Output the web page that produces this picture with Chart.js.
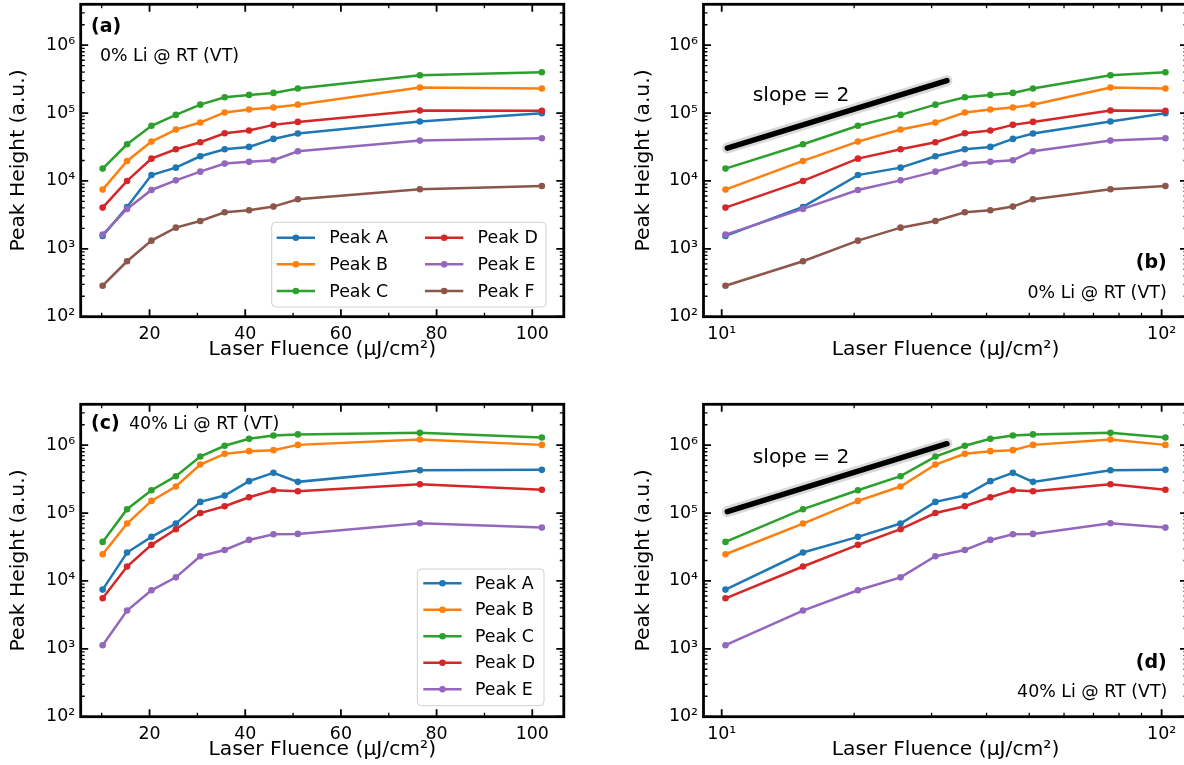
<!DOCTYPE html>
<html>
<head>
<meta charset="utf-8">
<script src="https://cdn.jsdelivr.net/npm/chart.js@4.4.0/dist/chart.umd.min.js"></script>
<style>
  html, body { margin: 0; padding: 0; background: #fff; overflow: hidden; width: 1184px; height: 765px; }
  canvas { position: absolute; }
</style>
</head>
<body>
<canvas id="pa" width="592" height="382" style="left:0px;top:0px"></canvas>
<canvas id="pb" width="580" height="382" style="left:620px;top:0px"></canvas>
<canvas id="pc" width="592" height="382" style="left:0px;top:400px"></canvas>
<canvas id="pd" width="580" height="382" style="left:620px;top:400px"></canvas>
<script>
// fluence values (uJ/cm2)
const fluence = [10.2, 15.3, 20.4, 25.5, 30.6, 35.7, 40.8, 45.9, 51.0, 76.5, 102.0];

// 0% Li @ RT
const li0A = [1550, 4140, 12200, 15700, 23100, 29300, 31700, 41600, 49900, 75000, 99500];
const li0B = [7450, 19700, 38000, 57100, 72400, 102000, 113000, 121000, 133000, 238000, 230000];
const li0C = [15200, 34700, 65000, 94000, 133000, 171000, 185000, 198000, 230000, 361000, 400000];
const li0D = [4050, 10000, 21300, 29300, 37200, 50400, 55200, 67000, 74100, 109000, 108000];
const li0E = [1620, 3870, 7360, 10200, 13700, 18000, 19100, 20200, 27400, 39300, 42600];
const li0F = [286, 655, 1320, 2050, 2570, 3450, 3700, 4190, 5370, 7540, 8440];

// 40% Li @ RT
const li40A = [7450, 26200, 44600, 70000, 146000, 181000, 295000, 391000, 288000, 428000, 433000];
const li40B = [24700, 70000, 151000, 246000, 519000, 745000, 816000, 844000, 1010000, 1210000, 1010000];
const li40C = [37600, 114000, 217000, 349000, 680000, 980000, 1240000, 1390000, 1440000, 1520000, 1300000];
const li40D = [5550, 16300, 34000, 57800, 100000, 126000, 171000, 217000, 210000, 266000, 220000];
const li40E = [1130, 3660, 7280, 11300, 23100, 28600, 40200, 48800, 49300, 70800, 61100];

// slope = 2 guide lines (end points)
const slopeX = [10.3, 32.5];
const slope0 = [30500, 300000];
const slope40 = [105000, 1050000];

// ticks
const yTicks = [1e2, 1e3, 1e4, 1e5, 1e6];
const yTickLabels = ['10²', '10³', '10⁴', '10⁵', '10⁶'];
const linTicks = [20, 40, 60, 80, 100];
const linMinor = [10, 30, 50, 70, 90];
const logTicks = [10, 100];
const logTickLabels = ['10¹', '10²'];
const logMinor = [20, 30, 40, 50, 60, 70, 80, 90];

const colors = ['#1f77b4', '#ff7f0e', '#2ca02c', '#d62728', '#9467bd', '#8c564b'];
const FONT = "'DejaVu Sans', sans-serif";
Chart.defaults.font.family = FONT;
Chart.defaults.color = '#000';

const yMinor = [];
yTicks.forEach(d => { for (let m = 2; m <= 9; m++) if (d * m < 4e6) yMinor.push(d * m); });

function series(label, vals, i) {
  return {
    label: label,
    data: fluence.map((f, k) => ({ x: f, y: vals[k] })),
    borderColor: colors[i], backgroundColor: colors[i],
    borderWidth: 2.5, pointRadius: 3.3, pointHoverRadius: 3.3, pointBorderWidth: 0,
    order: 10 - i
  };
}

function slopeSets(ys) {
  const pts = slopeX.map((x, k) => ({ x: x, y: ys[k] }));
  return [
    { label: '', guide: true, data: pts, borderColor: 'rgba(170,170,170,0.45)', borderWidth: 11,
      borderCapStyle: 'round', pointRadius: 0, order: -1 },
    { label: '', guide: true, data: pts, borderColor: '#000', borderWidth: 5.5,
      borderCapStyle: 'round', pointRadius: 0, order: -2 }
  ];
}

// inward ticks on all four sides + frame
const frame = {
  id: 'frame',
  afterDatasetsDraw(chart, args, o) {
    const { ctx, chartArea: a } = chart;
    const sx = chart.scales.x, sy = chart.scales.y;
    ctx.save();
    ctx.strokeStyle = '#000';
    const xt = (vals, len, lw) => {
      ctx.lineWidth = lw; ctx.beginPath();
      vals.forEach(v => {
        const p = sx.getPixelForValue(v);
        if (p < a.left || p > a.right) return;
        ctx.moveTo(p, a.bottom); ctx.lineTo(p, a.bottom - len);
        ctx.moveTo(p, a.top); ctx.lineTo(p, a.top + len);
      });
      ctx.stroke();
    };
    const yt = (vals, len, lw) => {
      ctx.lineWidth = lw; ctx.beginPath();
      vals.forEach(v => {
        const p = sy.getPixelForValue(v);
        if (p < a.top || p > a.bottom) return;
        ctx.moveTo(a.left, p); ctx.lineTo(a.left + len, p);
        ctx.moveTo(a.right, p); ctx.lineTo(a.right - len, p);
      });
      ctx.stroke();
    };
    xt(o.xMajor, 7.5, 1.8); xt(o.xMinor, 4, 1.3);
    yt(yTicks, 7.5, 1.8); yt(yMinor, 4, 1.3);
    ctx.lineWidth = 2.8;
    ctx.strokeRect(a.left, a.top, a.right - a.left, a.bottom - a.top);
    ctx.restore();
  }
};

// text notes placed relative to the plot area
const notes = {
  id: 'notes',
  afterDraw(chart, args, o) {
    const { ctx, chartArea: a } = chart;
    ctx.save();
    ctx.fillStyle = '#000';
    ctx.textBaseline = 'middle';
    (o.items || []).forEach(n => {
      ctx.font = (n.bold ? 'bold ' : '') + n.size + 'px ' + FONT;
      ctx.textAlign = n.align || 'left';
      ctx.fillText(n.text, a.left + n.x, a.top + n.y);
    });
    ctx.restore();
  }
};

// matplotlib-like legend box
const boxLegend = {
  id: 'boxLegend',
  afterDraw(chart, args, o) {
    if (!o.show) return;
    const { ctx, chartArea: a } = chart;
    const sets = chart.data.datasets.filter(d => !d.guide);
    const rows = Math.ceil(sets.length / o.cols);
    const bx = a.left + o.x, by = a.top + o.y;
    ctx.save();
    ctx.beginPath();
    ctx.roundRect(bx, by, o.w, o.h, 4);
    ctx.fillStyle = 'rgba(255,255,255,0.8)';
    ctx.fill();
    ctx.strokeStyle = '#d0d0d0';
    ctx.lineWidth = 1;
    ctx.stroke();
    ctx.font = '17.4px ' + FONT;
    ctx.textBaseline = 'middle';
    ctx.textAlign = 'left';
    sets.forEach((d, i) => {
      const c = Math.floor(i / rows), r = i % rows;
      const lx = bx + o.lineStart + c * o.colW;
      const ly = by + o.first + r * o.rowH;
      ctx.strokeStyle = d.borderColor;
      ctx.lineWidth = 2.5;
      ctx.beginPath(); ctx.moveTo(lx, ly); ctx.lineTo(lx + 38.3, ly); ctx.stroke();
      ctx.fillStyle = d.borderColor;
      ctx.beginPath(); ctx.arc(lx + 19.2, ly, 3.3, 0, Math.PI * 2); ctx.fill();
      ctx.fillStyle = '#000';
      ctx.fillText(d.label, lx + o.textOff, ly + 1);
    });
    ctx.restore();
  }
};

function makePanel(id, cfg) {
  const logX = cfg.logX;
  return new Chart(document.getElementById(id), {
    type: 'line',
    data: { datasets: cfg.datasets },
    plugins: [frame, notes, boxLegend],
    options: {
      responsive: false, animation: false, devicePixelRatio: 1, events: [],
      layout: { padding: cfg.padding },
      plugins: {
        legend: { display: false }, tooltip: { enabled: false },
        frame: { xMajor: logX ? logTicks : linTicks, xMinor: logX ? logMinor : linMinor },
        notes: { items: cfg.notes },
        boxLegend: cfg.legend || { show: false }
      },
      scales: {
        x: {
          type: logX ? 'logarithmic' : 'linear',
          min: logX ? 9.091 : 5.61, max: logX ? 114.5 : 106.59,
          afterBuildTicks: s => { s.ticks = (logX ? logTicks : linTicks).map(v => ({ value: v })); },
          afterFit: s => { s.height = 50; s.paddingLeft = 0; s.paddingRight = 0; },
          grid: { display: false, drawTicks: false }, border: { display: false },
          ticks: {
            autoSkip: false, maxRotation: 0, padding: 7.4, font: { size: 17.4 },
            callback: v => logX ? logTickLabels[logTicks.indexOf(v)] : String(v)
          },
          title: { display: true, text: 'Laser Fluence (μJ/cm²)', font: { size: 20.3 }, padding: { top: 0, bottom: 4.8 } }
        },
        y: {
          type: 'logarithmic', min: 100, max: 4e6,
          afterBuildTicks: s => { s.ticks = yTicks.map(v => ({ value: v })); },
          afterFit: s => { s.width = cfg.yWidth; s.paddingTop = 0; s.paddingBottom = 0; },
          grid: { display: false, drawTicks: false }, border: { display: false },
          ticks: {
            autoSkip: false, padding: 5.5, font: { size: 17.4 },
            callback: v => yTickLabels[yTicks.indexOf(v)]
          },
          title: { display: true, text: 'Peak Height (a.u.)', font: { size: 20.3 }, padding: { top: cfg.yTitlePad, bottom: 0 } }
        }
      }
    }
  });
}

const set0 = () => [series('Peak A', li0A, 0), series('Peak B', li0B, 1), series('Peak C', li0C, 2),
  series('Peak D', li0D, 3), series('Peak E', li0E, 4), series('Peak F', li0F, 5)];
const set40 = () => [series('Peak A', li40A, 0), series('Peak B', li40B, 1), series('Peak C', li40C, 2),
  series('Peak D', li40D, 3), series('Peak E', li40E, 4)];

const padLeft = { left: 0, top: 4.3, right: 28.2, bottom: 15.3 };
const padRight = { left: 0, top: 4.3, right: 12.5, bottom: 15.3 };

makePanel('pa', {
  datasets: set0(), padding: padLeft, yWidth: 80.7, yTitlePad: 6.1,
  notes: [
    { text: '(a)', x: 10.3, y: 22.4, size: 19, bold: true },
    { text: '0% Li @ RT (VT)', x: 19.3, y: 51.7, size: 17.4 }
  ],
  legend: { show: true, x: 191, y: 218, w: 274.3, h: 84.7, cols: 2, colW: 148.3, rowH: 26.65, first: 15.4, lineStart: 5, textOff: 52.6 }
});

makePanel('pb', {
  datasets: set0().concat(slopeSets(slope0)), padding: padRight, yWidth: 83.5, yTitlePad: 11.1, logX: true,
  notes: [
    { text: 'slope = 2', x: 49.2, y: 91.4, size: 20.3 },
    { text: '(b)', x: 463.2, y: 259, size: 19, bold: true, align: 'right' },
    { text: '0% Li @ RT (VT)', x: 463.2, y: 289, size: 17.4, align: 'right' }
  ]
});

makePanel('pc', {
  datasets: set40(), padding: padLeft, yWidth: 80.7, yTitlePad: 6.1,
  notes: [
    { text: '(c)', x: 10.3, y: 19.7, size: 19, bold: true },
    { text: '40% Li @ RT (VT)', x: 48.3, y: 19.7, size: 17.4 }
  ],
  legend: { show: true, x: 336.6, y: 164.7, w: 126.7, h: 136.7, cols: 1, colW: 0, rowH: 26.5, first: 14.3, lineStart: 6, textOff: 51.7 }
});

makePanel('pd', {
  datasets: set40().concat(slopeSets(slope40)), padding: padRight, yWidth: 83.5, yTitlePad: 11.1, logX: true,
  notes: [
    { text: 'slope = 2', x: 49.2, y: 53, size: 20.3 },
    { text: '(d)', x: 463.2, y: 259, size: 19, bold: true, align: 'right' },
    { text: '40% Li @ RT (VT)', x: 463.8, y: 288.4, size: 17.4, align: 'right' }
  ]
});
</script>
</body>
</html>
